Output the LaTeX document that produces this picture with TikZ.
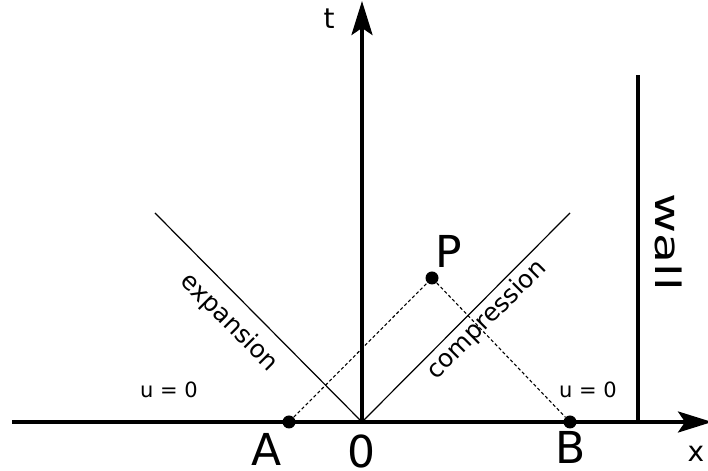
\documentclass[tikz,border=0pt]{standalone}
\usepackage{fontspec}
\setmainfont{DejaVu Sans}
\usetikzlibrary{arrows.meta}
\begin{document}
\begin{tikzpicture}[
    x=0.5pt, y=0.5pt,
    axis/.style={line width=1.8pt, -{Stealth[length=17pt, width=10.5pt, inset=3.5pt]}},
    wallline/.style={line width=1.8pt},
    front/.style={line width=0.6pt},
    charline/.style={line width=0.55pt, dash pattern=on 1.6pt off 1.2pt},
    dot/.style={circle, fill, inner sep=0pt, minimum size=6.5pt},
    bigletter/.style={font=\fontsize{22}{22}\selectfont},
    axislabel/.style={font=\fontsize{14}{14}\selectfont},
    small/.style={font=\fontsize{10.5}{10.5}\selectfont},
    frontlabel/.style={font=\fontsize{12.4}{12.4}\selectfont}
]
\useasboundingbox (0,0) rectangle (708,471);

% -------------------------
% Axes
% -------------------------
    \coordinate (xstart) at (12,49);
    \coordinate (xend) at (712,49);
    \coordinate (O) at (362,49);
    \coordinate (tend) at (362,470);
    \draw[axis] (xstart) -- (xend);
    \draw[axis] (O) -- (tend);
    \node[axislabel] (tlab) at (329,452) {t};
    \node[axislabel] (xlab) at (696,17) {x};

% -------------------------
% Wall
% -------------------------
    \coordinate (wallbot) at (638,49);
    \coordinate (walltop) at (638,396);
    \draw[wallline] (wallbot) -- (walltop);
    \node[font=\fontsize{17.5}{17.5}\selectfont, rotate=-90, xscale=1.4] (wall) at (669,229) {wall};

% -------------------------
% Fronts
% -------------------------
    \coordinate (expend) at (155,258);
    \coordinate (compend) at (570,258);
    \draw[front] (O) -- (expend);
    \draw[front] (O) -- (compend);
    \node[frontlabel, rotate=-45] (explab) at (229,148) {expansion};
    \node[frontlabel, rotate=45] (complab) at (487,151) {compression};

% -------------------------
% Points and characteristics
% -------------------------
    \node[dot] (A) at (289,49) {};
    \node[dot] (B) at (570,49) {};
    \node[dot] (P) at (432,193) {};
    \draw[charline] (A) -- (P);
    \draw[charline] (P) -- (B);
    \node[bigletter] (Alab) at (267,22) {A};
    \node[bigletter] (Olab) at (361,20) {0};
    \node[bigletter] (Blab) at (571,24) {B};
    \node[bigletter] (Plab) at (449,220) {P};

% -------------------------
% State labels
% -------------------------
    \node[small] (uleft) at (169,81) {u = 0};
    \node[small] (uright) at (588,81) {u = 0};
\end{tikzpicture}
\end{document}
